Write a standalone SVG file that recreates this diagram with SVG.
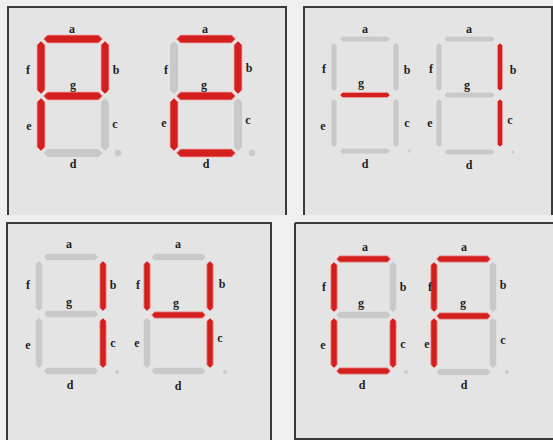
<svg xmlns="http://www.w3.org/2000/svg" xmlns:xlink="http://www.w3.org/1999/xlink" width="553" height="440" viewBox="0 0 553 440">
<style>
.panel{fill:#e4e4e4}
.border{fill:none;stroke:#3a3a3a;stroke-width:2}
.on{fill:#d41f1f;stroke:#f2a8a8;stroke-width:0.8}
.off{fill:#c9c9c9}
.dot{fill:#c9c9c9}
.lbl{font-family:"Liberation Serif","DejaVu Serif",serif;font-weight:bold;font-size:12px;fill:#1e1e1e;text-anchor:middle;dominant-baseline:central}
</style>
<defs>
<polygon id="h1" points="-29.5,0 -25.5,-4 25.5,-4 29.5,0 25.5,4 -25.5,4"/>
<polygon id="v1" points="0,-26.5 4,-22.5 4,22.5 0,26.5 -4,22.5 -4,-22.5"/>
<polygon id="h2" points="-25,0 -22.5,-2.6 22.5,-2.6 25,0 22.5,2.6 -22.5,2.6"/>
<polygon id="v2" points="0,-24 2.6,-21.5 2.6,21.5 0,24 -2.6,21.5 -2.6,-21.5"/>
<polygon id="h3" points="-27,0 -24,-3.2 24,-3.2 27,0 24,3.2 -24,3.2"/>
<polygon id="v3" points="0,-25 3.2,-22 3.2,22 0,25 -3.2,22 -3.2,-22"/>
</defs>
<rect x="0" y="0" width="553" height="440" fill="#efefef"/>

<g id="panel1">
<rect class="panel" x="8" y="7" width="278" height="208"/>
<path class="border" d="M8,215 V7 H286 V215"/>
<g id="p1-digit1">
<use href="#h1" x="73" y="39" class="on"/>
<use href="#v1" x="105" y="67.5" class="on"/>
<use href="#v1" x="105" y="124.5" class="off"/>
<use href="#h1" x="73" y="153" class="off"/>
<use href="#v1" x="41" y="124.5" class="on"/>
<use href="#v1" x="41" y="67.5" class="on"/>
<use href="#h1" x="73" y="96" class="on"/>
<circle class="dot" cx="118" cy="153" r="3.2"/>
<text class="lbl" x="72" y="29">a</text>
<text class="lbl" x="28" y="70">f</text>
<text class="lbl" x="116" y="70">b</text>
<text class="lbl" x="73" y="85">g</text>
<text class="lbl" x="29" y="126">e</text>
<text class="lbl" x="115" y="124">c</text>
<text class="lbl" x="73" y="164">d</text>
</g>
<g id="p1-digit2">
<use href="#h1" x="206" y="39" class="on"/>
<use href="#v1" x="238" y="67.5" class="on"/>
<use href="#v1" x="238" y="124.5" class="off"/>
<use href="#h1" x="206" y="153" class="on"/>
<use href="#v1" x="174" y="124.5" class="on"/>
<use href="#v1" x="174" y="67.5" class="off"/>
<use href="#h1" x="206" y="96" class="on"/>
<circle class="dot" cx="252" cy="153" r="3.2"/>
<text class="lbl" x="205" y="29">a</text>
<text class="lbl" x="166" y="70">f</text>
<text class="lbl" x="249" y="68">b</text>
<text class="lbl" x="204" y="85">g</text>
<text class="lbl" x="164" y="123">e</text>
<text class="lbl" x="248" y="120">c</text>
<text class="lbl" x="206" y="164">d</text>
</g>
</g>

<g id="panel2">
<rect class="panel" x="304" y="7" width="248" height="208"/>
<path class="border" d="M304,215 V7 H552 V215"/>
<g id="p2-digit1">
<use href="#h2" x="365" y="39" class="off"/>
<use href="#v2" x="396" y="67" class="off"/>
<use href="#v2" x="396" y="123" class="off"/>
<use href="#h2" x="365" y="151" class="off"/>
<use href="#v2" x="334" y="123" class="off"/>
<use href="#v2" x="334" y="67" class="off"/>
<use href="#h2" x="365" y="95" class="on"/>
<circle class="dot" cx="409" cy="151" r="1.5"/>
<text class="lbl" x="365" y="29">a</text>
<text class="lbl" x="324" y="69">f</text>
<text class="lbl" x="407" y="70">b</text>
<text class="lbl" x="361" y="83">g</text>
<text class="lbl" x="323" y="126">e</text>
<text class="lbl" x="407" y="123">c</text>
<text class="lbl" x="365" y="164">d</text>
</g>
<g id="p2-digit2">
<use href="#h2" x="469.5" y="39" class="off"/>
<use href="#v2" x="500" y="67" class="on"/>
<use href="#v2" x="500" y="123" class="on"/>
<use href="#h2" x="469.5" y="152" class="off"/>
<use href="#v2" x="439" y="123" class="off"/>
<use href="#v2" x="439" y="67" class="off"/>
<use href="#h2" x="469.5" y="95" class="off"/>
<circle class="dot" cx="513" cy="152" r="1.5"/>
<text class="lbl" x="469" y="29">a</text>
<text class="lbl" x="431" y="69">f</text>
<text class="lbl" x="513" y="70">b</text>
<text class="lbl" x="467" y="85">g</text>
<text class="lbl" x="430" y="123">e</text>
<text class="lbl" x="510" y="120">c</text>
<text class="lbl" x="469" y="165">d</text>
</g>
</g>

<g id="panel3">
<rect class="panel" x="7" y="223" width="264" height="217"/>
<path class="border" d="M7,440 V223 H271 V440"/>
<g id="p3-digit1">
<use href="#h3" x="71" y="257" class="off"/>
<use href="#v3" x="103" y="286" class="on"/>
<use href="#v3" x="103" y="343" class="on"/>
<use href="#h3" x="71" y="371" class="off"/>
<use href="#v3" x="39" y="343" class="off"/>
<use href="#v3" x="39" y="286" class="off"/>
<use href="#h3" x="71" y="314" class="off"/>
<circle class="dot" cx="117" cy="372" r="2"/>
<text class="lbl" x="69" y="244">a</text>
<text class="lbl" x="28" y="285">f</text>
<text class="lbl" x="113" y="285">b</text>
<text class="lbl" x="69" y="302">g</text>
<text class="lbl" x="28" y="345">e</text>
<text class="lbl" x="113" y="343">c</text>
<text class="lbl" x="70" y="385">d</text>
</g>
<g id="p3-digit2">
<use href="#h3" x="178.5" y="257" class="off"/>
<use href="#v3" x="210" y="286" class="on"/>
<use href="#v3" x="210" y="343" class="on"/>
<use href="#h3" x="178.5" y="371" class="off"/>
<use href="#v3" x="147" y="343" class="off"/>
<use href="#v3" x="147" y="286" class="on"/>
<use href="#h3" x="178.5" y="315" class="on"/>
<circle class="dot" cx="225" cy="372" r="2"/>
<text class="lbl" x="178" y="244">a</text>
<text class="lbl" x="138" y="285">f</text>
<text class="lbl" x="222" y="284">b</text>
<text class="lbl" x="176" y="303">g</text>
<text class="lbl" x="137" y="343">e</text>
<text class="lbl" x="220" y="338">c</text>
<text class="lbl" x="178" y="386">d</text>
</g>
</g>

<g id="panel4">
<rect class="panel" x="295" y="223" width="258" height="216"/>
<path class="border" d="M295,223 V439 H553 M295,223 H553"/>
<g id="p4-digit1">
<use href="#h3" x="363.5" y="259" class="on"/>
<use href="#v3" x="393" y="287" class="off"/>
<use href="#v3" x="393" y="343" class="on"/>
<use href="#h3" x="363.5" y="371" class="on"/>
<use href="#v3" x="334" y="343" class="on"/>
<use href="#v3" x="334" y="287" class="on"/>
<use href="#h3" x="363.5" y="315" class="off"/>
<circle class="dot" cx="406" cy="372" r="2"/>
<text class="lbl" x="365" y="247">a</text>
<text class="lbl" x="324" y="287">f</text>
<text class="lbl" x="403" y="287">b</text>
<text class="lbl" x="361" y="303">g</text>
<text class="lbl" x="323" y="345">e</text>
<text class="lbl" x="403" y="344">c</text>
<text class="lbl" x="362" y="385">d</text>
</g>
<g id="p4-digit2">
<use href="#h3" x="463.5" y="259" class="on"/>
<use href="#v3" x="493" y="287" class="off"/>
<use href="#v3" x="493" y="343" class="off"/>
<use href="#h3" x="463.5" y="372" class="off"/>
<use href="#v3" x="434" y="343" class="on"/>
<use href="#v3" x="434" y="287" class="on"/>
<use href="#h3" x="463.5" y="316" class="on"/>
<circle class="dot" cx="507" cy="372" r="2"/>
<text class="lbl" x="464" y="247">a</text>
<text class="lbl" x="430" y="287">f</text>
<text class="lbl" x="503" y="285">b</text>
<text class="lbl" x="463" y="303">g</text>
<text class="lbl" x="427" y="344">e</text>
<text class="lbl" x="503" y="340">c</text>
<text class="lbl" x="464" y="385">d</text>
</g>
</g>
</svg>
